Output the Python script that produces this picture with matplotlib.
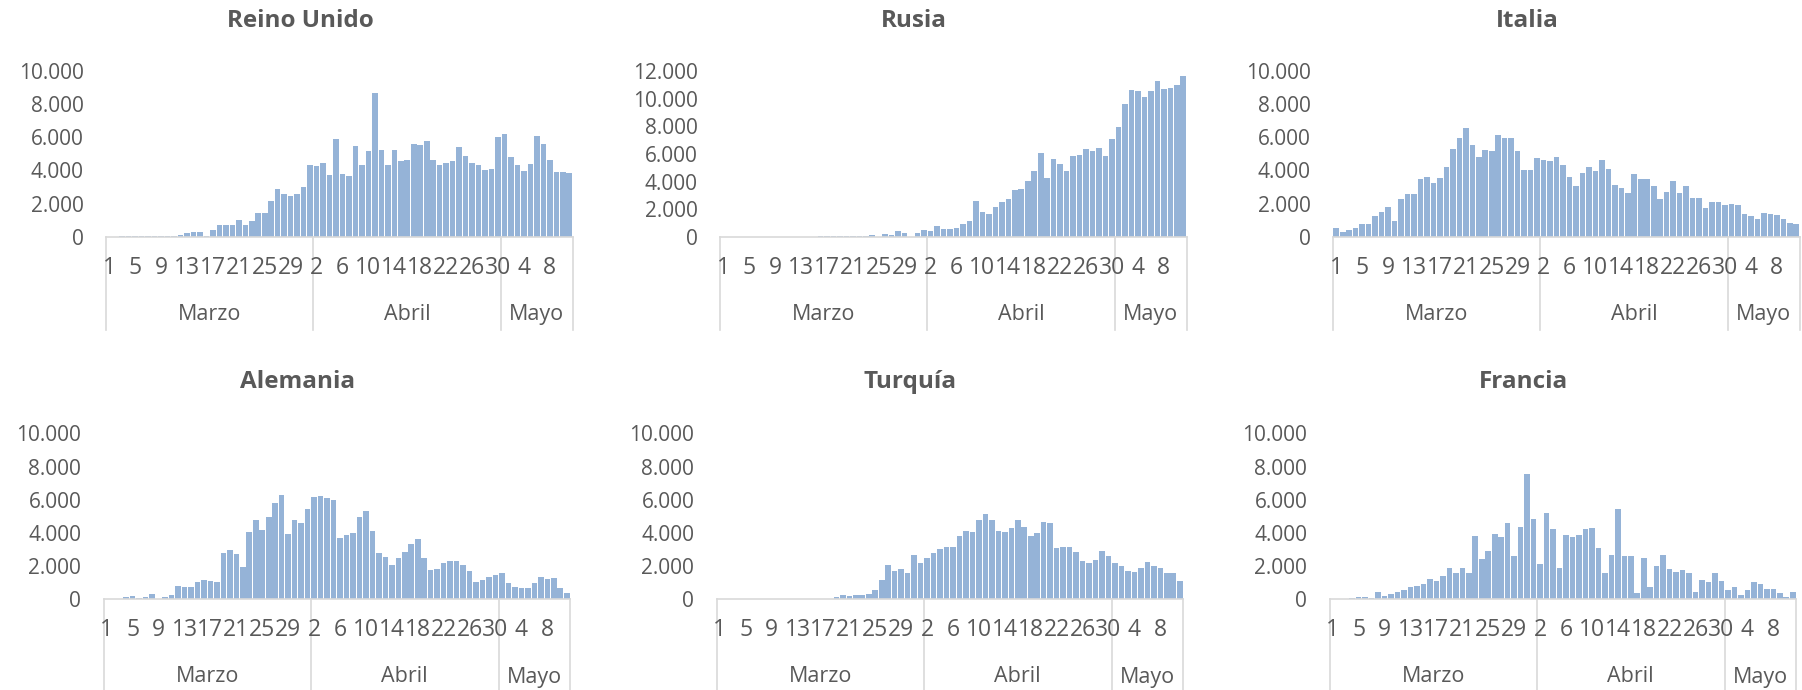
import matplotlib
matplotlib.use("Agg")
import matplotlib.pyplot as plt
import matplotlib.transforms as mtransforms
from matplotlib.ticker import FuncFormatter
import pandas as pd

plt.rcParams["font.family"] = ["Open Sans", "DejaVu Sans"]

# ---- data -------------------------------------------------------------
dates = pd.date_range("2020-03-01", "2020-05-11", freq="D")
day_numbers = list(dates.day)

# month groups as drawn on the category axis
month_names = ["Marzo", "Abril", "Mayo"]
month_span = [32, 29, 11]

reino_unido = [
    10, 5, 15, 30, 50, 50, 40, 60, 50, 60,
    60, 130, 200, 300, 300, 50, 400, 700, 700, 700,
    1000, 700, 950, 1450, 1450, 2150, 2900, 2550, 2450, 2600,
    3000, 4350, 4250, 4450, 3750, 5900, 3800, 3650, 5500, 4350,
    5200, 8700, 5250, 4350, 5250, 4600, 4650, 5600, 5550, 5800,
    4650, 4300, 4450, 4550, 5400, 4900, 4450, 4300, 4000, 4100,
    6000, 6200, 4800, 4350, 3950, 4400, 6100, 5600, 4650, 3900,
    3900, 3850,
]
rusia = [
    0, 0, 0, 0, 0, 0, 0, 0, 0, 0,
    0, 10, 10, 5, 10, 20, 30, 30, 50, 50,
    50, 70, 60, 120, 0, 190, 150, 410, 240, 0,
    270, 480, 410, 750, 560, 560, 630, 920, 1130, 2600,
    1760, 1640, 2150, 2540, 2730, 3360, 3450, 4050, 4750, 6050,
    4250, 5650, 5250, 4750, 5850, 5950, 6350, 6200, 6400, 5850,
    7100, 7950, 9650, 10600, 10550, 10100, 10550, 11250, 10700, 10800,
    11000, 11650,
]
italia = [
    550, 300, 400, 550, 750, 750, 1250, 1500, 1800, 950,
    2300, 2600, 2550, 3500, 3600, 3250, 3550, 4200, 5300, 5950,
    6550, 5550, 4800, 5250, 5200, 6150, 5950, 5950, 5200, 4050,
    4050, 4750, 4650, 4550, 4800, 4300, 3600, 3050, 3850, 4200,
    3950, 4650, 4100, 3150, 2950, 2650, 3800, 3500, 3500, 3050,
    2250, 2700, 3350, 2650, 3050, 2350, 2350, 1750, 2100, 2100,
    1900, 2000, 1900, 1400, 1250, 1050, 1450, 1400, 1300, 1050,
    800, 750,
]
alemania = [
    0, 0, 0, 130, 160, 70, 130, 300, 0, 120,
    250, 800, 700, 750, 1050, 1150, 1100, 1050, 2800, 2950,
    2700, 1950, 4050, 4750, 4150, 4950, 5800, 6300, 3950, 4750,
    4600, 5450, 6150, 6200, 6100, 5950, 3700, 3850, 4000, 4950,
    5300, 4100, 2800, 2550, 2050, 2450, 2850, 3350, 3600, 2450,
    1750, 1800, 2200, 2300, 2300, 2050, 1700, 1000, 1150, 1300,
    1450, 1600, 950, 750, 650, 650, 950, 1300, 1200, 1250,
    650, 350,
]
turquia = [
    0, 0, 0, 0, 0, 0, 0, 0, 0, 0,
    0, 0, 0, 0, 0, 10, 20, 30, 100, 250,
    200, 250, 250, 300, 550, 1150, 2050, 1700, 1800, 1600,
    2650, 2150, 2450, 2750, 3000, 3150, 3150, 3800, 4100, 4050,
    4750, 5150, 4800, 4100, 4050, 4300, 4800, 4350, 3800, 4000,
    4650, 4600, 3100, 3150, 3150, 2850, 2300, 2150, 2350, 2900,
    2600, 2200, 2000, 1700, 1650, 1850, 2250, 2000, 1900, 1550,
    1550, 1100,
]
francia = [
    0, 0, 10, 50, 100, 150, 50, 450, 200, 300,
    450, 550, 750, 800, 900, 1200, 1100, 1400, 1850, 1600,
    1850, 1550, 3800, 2400, 2900, 3900, 3750, 4600, 2600, 4350,
    7550, 4850, 2100, 5200, 4250, 1850, 3850, 3750, 3850, 4250,
    4300, 3100, 1600, 2650, 5450, 2600, 2600, 350, 2500, 750,
    2000, 2650, 1800, 1650, 1750, 1550, 450, 1150, 1050, 1600,
    1100, 550, 750, 250, 550, 1050, 900, 600, 600, 350,
    150, 400,
]

titles = ["Reino Unido", "Rusia", "Italia", "Alemania", "Turquía", "Francia"]
series = [reino_unido, rusia, italia, alemania, turquia, francia]
y_max = [10000, 12000, 10000, 10000, 10000, 10000]

# ---- layout (pixels of the 1802x690 canvas) -----------------------------
W, H = 1802, 690
left_px = [106, 720, 1333, 103.5, 716.5, 1329.5]
zero_px = [236.7, 236.7, 236.7, 599, 599, 599]
title_y_px = [20.7, 20.7, 20.7, 382, 382, 382]
ax_w, ax_h = 466.5, 165.6

BAR = "#95B3D7"
TXT = "#595959"
LINE = "#D9D9D9"


def thousands(v, _pos):
    return f"{int(round(v)):,}".replace(",", ".")


fig = plt.figure(figsize=(W / 100, H / 100), dpi=100)

for k in range(6):
    l, z = left_px[k], zero_px[k]
    ax = fig.add_axes([l / W, 1 - z / H, ax_w / W, ax_h / H])
    vals = series[k]
    x = list(range(len(vals)))
    ax.bar(x, vals, width=0.86, color=BAR, edgecolor="none", zorder=2)

    ax.set_xlim(-0.5, len(vals) - 0.5)
    ax.set_ylim(0, y_max[k])
    ax.set_yticks(range(0, y_max[k] + 1, 2000))
    ax.yaxis.set_major_formatter(FuncFormatter(thousands))
    ax.tick_params(axis="y", length=0, pad=16, labelsize=15, labelcolor=TXT)
    ax.set_xticks([])
    for side in ["top", "right", "left"]:
        ax.spines[side].set_visible(False)
    ax.spines["bottom"].set_color(LINE)
    ax.spines["bottom"].set_linewidth(1.2)
    ax.spines["bottom"].set_zorder(3)

    # day labels every 4th category
    for i in range(0, len(vals), 4):
        ax.annotate(str(day_numbers[i]), xy=(i, 0),
                    xycoords=("data", "axes fraction"),
                    xytext=(0, -31 * 0.72), textcoords="offset points",
                    ha="center", va="center", fontsize=16.5, color=TXT)

    # month group labels and separators
    trans = mtransforms.blended_transform_factory(ax.transData, ax.transAxes)
    drop = 93 / ax_h
    start = -0.5
    bounds = [start]
    for name, span in zip(month_names, month_span):
        end = start + span
        ax.annotate(name, xy=((start + end) / 2, 0),
                    xycoords=("data", "axes fraction"),
                    xytext=(0, -78 * 0.72), textcoords="offset points",
                    ha="center", va="center", fontsize=15.5, color=TXT)
        bounds.append(end)
        start = end
    for b in bounds:
        ax.plot([b, b], [0, -drop], transform=trans, color=LINE,
                lw=1.2, clip_on=False, zorder=1)

    fig.text((l + 194) / W, 1 - title_y_px[k] / H, titles[k],
             ha="center", va="center", fontsize=17.5, fontweight="bold",
             color=TXT)

fig.savefig("out.png", dpi=100, facecolor="white")
